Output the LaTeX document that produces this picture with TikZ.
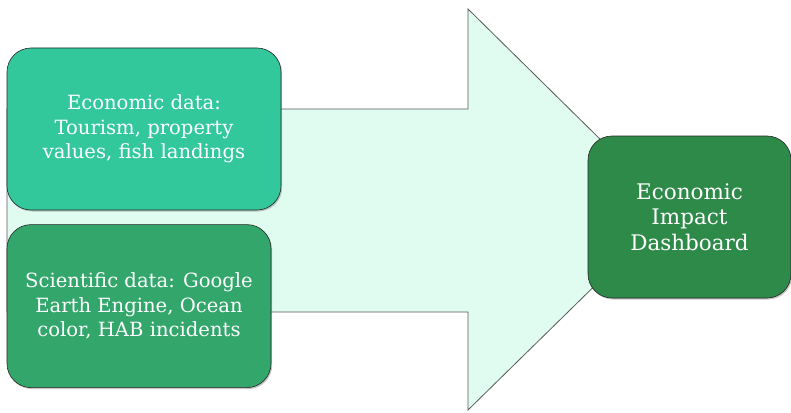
\documentclass[tikz,border=0pt]{standalone}
\usepackage{fontspec}
\setmainfont{DejaVu Serif}
\usepackage{tikz}
\usetikzlibrary{positioning,shadows}
\definecolor{econgreen}{HTML}{33C89C}
\definecolor{scigreen}{HTML}{33A66B}
\definecolor{dashgreen}{HTML}{2E8A48}
\definecolor{arrowfill}{HTML}{E0FCF1}

\begin{document}
\begin{tikzpicture}[x=1pt,y=-1pt,semithick]
	\tikzstyle{databox}=[draw=black!85, rounded corners=24pt, text=white, align=center,
		inner sep=0pt, font=\fontsize{19.6}{24.5}\selectfont,
		drop shadow={shadow xshift=1.2pt,shadow yshift=-1.5pt,opacity=.45}]
	\useasboundingbox (0,0) rectangle (791,412);
	% big arrow behind the boxes
	\draw[fill=arrowfill, draw=black!65, line width=0.8pt] (7,109) -- (468,109) -- (468,9) -- (672,210)
		-- (468,410) -- (468,312) -- (7,312) -- cycle;
	\node[databox, fill=econgreen, minimum width=274pt, minimum height=162pt] (econ) at (144,129)
		{Economic data:\\Tourism, property\\values, fish landings};
	\node[databox, fill=scigreen, minimum width=264pt, minimum height=163pt,
		below right=14pt and 0pt of econ.south west] (sci)
		{Scientific data: Google\\Earth Engine, Ocean\\color, HAB incidents};
	\node[databox, fill=dashgreen, minimum width=203pt, minimum height=162pt,
		font=\fontsize{21.5}{25.5}\selectfont] (dash) at (689.5,217)
		{Economic\\Impact\\Dashboard};
\end{tikzpicture}
\end{document}
